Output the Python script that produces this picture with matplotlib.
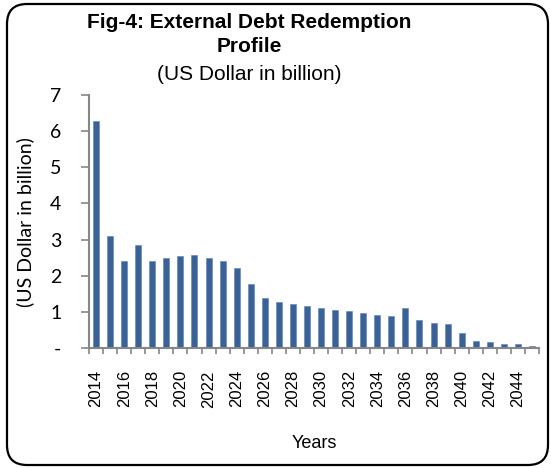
import matplotlib.pyplot as plt
from matplotlib.patches import FancyBboxPatch
from matplotlib.transforms import IdentityTransform

# Redemption schedule, US$ billion per year
years = list(range(2014, 2046))
redemption = [6.27, 3.11, 2.40, 2.84, 2.41, 2.49, 2.55, 2.56, 2.49, 2.42,
              2.20, 1.77, 1.37, 1.26, 1.22, 1.16, 1.11, 1.06, 1.03, 0.98,
              0.92, 0.89, 1.11, 0.77, 0.70, 0.66, 0.42, 0.19, 0.17, 0.12,
              0.12, 0.06]
y_ticks = [0, 1, 2, 3, 4, 5, 6, 7]
y_labels = ["-", "1", "2", "3", "4", "5", "6", "7"]

W, H = 551, 468
fig = plt.figure(figsize=(W / 100, H / 100), dpi=100)
ax = fig.add_axes([89 / W, 1 - 348 / H, 450 / W, 253 / H])

pos = range(len(years))
ax.bar(pos, redemption, width=0.43, color="#3A6297", edgecolor="#5A80B5", linewidth=0.4)

ax.set_xlim(-0.5, len(years) - 0.5)
ax.set_ylim(0, 7)

grey = "#868686"
for s in ("top", "right"):
    ax.spines[s].set_visible(False)
for s in ("left", "bottom"):
    ax.spines[s].set_color(grey)
    ax.spines[s].set_linewidth(1.5)

# year labels every other bar, tick marks between bars
ax.set_xticks(list(pos)[::2])
ax.set_xticklabels([str(y) for y in years[::2]], rotation=90,
                   family="Liberation Sans", fontsize=12)
ax.set_xticks([p - 0.5 for p in range(len(years) + 1)], minor=True)
ax.tick_params(axis="x", which="major", length=0, pad=16)
ax.tick_params(axis="x", which="minor", length=4, width=1.2, color=grey, direction="out")

ax.set_yticks(y_ticks)
ax.set_yticklabels(y_labels, family="Lato", fontsize=14)
ax.tick_params(axis="y", length=6, width=1.2, color=grey, pad=14)

ax.set_xlabel("Years", family="Liberation Sans", fontsize=13, labelpad=20)

fig.text(25 / W, 1 - 222 / H, "(US Dollar in billion)", rotation=90,
         ha="center", va="center", family="Lato", fontsize=14)

fig.text(0.452, 1 - 23 / H, "Fig-4: External Debt Redemption", ha="center", va="center",
         family="Liberation Sans", fontweight="bold", fontsize=15)
fig.text(0.452, 1 - 47 / H, "Profile", ha="center", va="center",
         family="Liberation Sans", fontweight="bold", fontsize=15)
fig.text(0.452, 1 - 74 / H, "(US Dollar in billion)", ha="center", va="center",
         family="Liberation Sans", fontsize=15)

# rounded frame round the whole chart
frame = FancyBboxPatch((7, 3), 541, 461, boxstyle="round,pad=0,rounding_size=20",
                       transform=IdentityTransform(), fill=False,
                       edgecolor="black", linewidth=1.6)
fig.patches.append(frame)

fig.savefig("out.png", dpi=100)
